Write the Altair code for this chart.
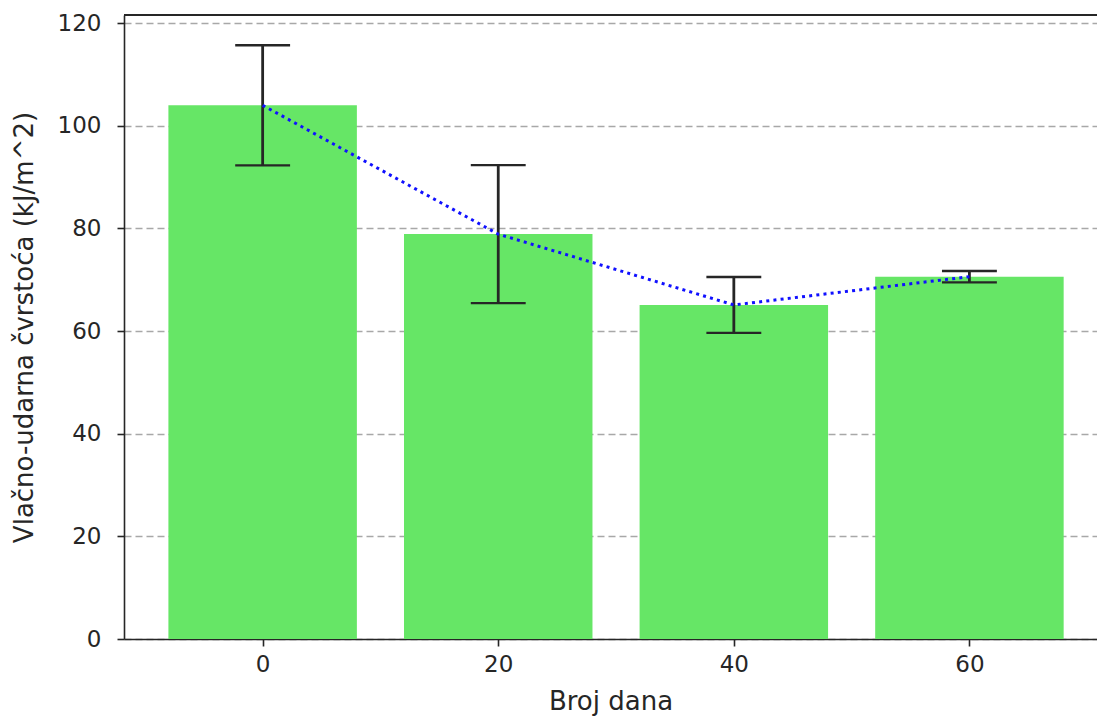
import altair as alt
import pandas as pd

# Data
days = [0, 20, 40, 60]
means = [104.0, 78.9, 65.1, 70.6]
errors = [11.7, 13.45, 5.45, 1.1]
y_ticks = [0, 20, 40, 60, 80, 100, 120]

df = pd.DataFrame({"dan": days, "mean": means, "err": errors})

W, H = 973, 624
FONT = "DejaVu Sans"
x_scale = alt.Scale(domain=[-11.77, 70.83], nice=False, zero=False)
y_scale = alt.Scale(domain=[0, 121.6], nice=False, zero=False)

base = alt.Chart(df).transform_calculate(
    x0="datum.dan - 8",
    x1="datum.dan + 8",
    zero="0",
    lo="datum.mean - datum.err",
    hi="datum.mean + datum.err",
    c0="datum.dan - 2.33",
    c1="datum.dan + 2.33",
)

x_axis = alt.Axis(
    values=days, title="Broj dana", grid=False, format="d",
    labelFont=FONT, labelFontSize=23, labelColor="#262626", labelPadding=7,
    tickSize=7, tickWidth=1.6, tickColor="#262626",
    domainColor="#262626", domainWidth=1.6,
    titleFont=FONT, titleFontSize=26, titleFontWeight="normal", titleColor="#262626",
    titlePadding=12,
)
y_axis = alt.Axis(
    values=y_ticks, title="Vlačno-udarna čvrstoća (kJ/m^2)", format="d",
    grid=True, gridColor="#a8a8a8", gridDash=[7, 4], gridWidth=1.6,
    labelFont=FONT, labelFontSize=23, labelColor="#262626", labelPadding=16,
    tickSize=7, tickWidth=1.6, tickColor="#262626",
    domainColor="#262626", domainWidth=1.6,
    titleFont=FONT, titleFontSize=26, titleFontWeight="normal", titleColor="#262626",
    titlePadding=20,
)

bars = base.mark_rect(color="#66E666").encode(
    x=alt.X("x0:Q", scale=x_scale, axis=x_axis),
    x2="x1:Q",
    y=alt.Y("mean:Q", scale=y_scale, axis=y_axis),
    y2="zero:Q",
)

err = base.mark_rule(color="#262626", strokeWidth=2.8).encode(
    x=alt.X("dan:Q", scale=x_scale),
    y=alt.Y("lo:Q", scale=y_scale),
    y2="hi:Q",
)
cap_top = base.mark_rule(color="#262626", strokeWidth=2.4).encode(
    x=alt.X("c0:Q", scale=x_scale),
    x2="c1:Q",
    y=alt.Y("hi:Q", scale=y_scale),
)
cap_bot = base.mark_rule(color="#262626", strokeWidth=2.4).encode(
    x=alt.X("c0:Q", scale=x_scale),
    x2="c1:Q",
    y=alt.Y("lo:Q", scale=y_scale),
)

line = base.mark_line(color="#1010ff", strokeWidth=3, strokeDash=[3, 4.2], strokeCap="butt").encode(
    x=alt.X("dan:Q", scale=x_scale),
    y=alt.Y("mean:Q", scale=y_scale),
)

top_spine = alt.Chart(df).mark_rule(color="#262626", strokeWidth=1.6).encode(
    x=alt.value(0), x2=alt.value(W), y=alt.value(0)
)

chart = alt.layer(bars, err, cap_top, cap_bot, line, top_spine).properties(
    width=W, height=H,
    autosize=alt.AutoSizeParams(type="none"),
    padding={"left": 116, "top": 7, "right": 0, "bottom": 77},
).configure_view(stroke=None)

chart.save("out.html", embed_options={"renderer": "svg", "actions": False})
